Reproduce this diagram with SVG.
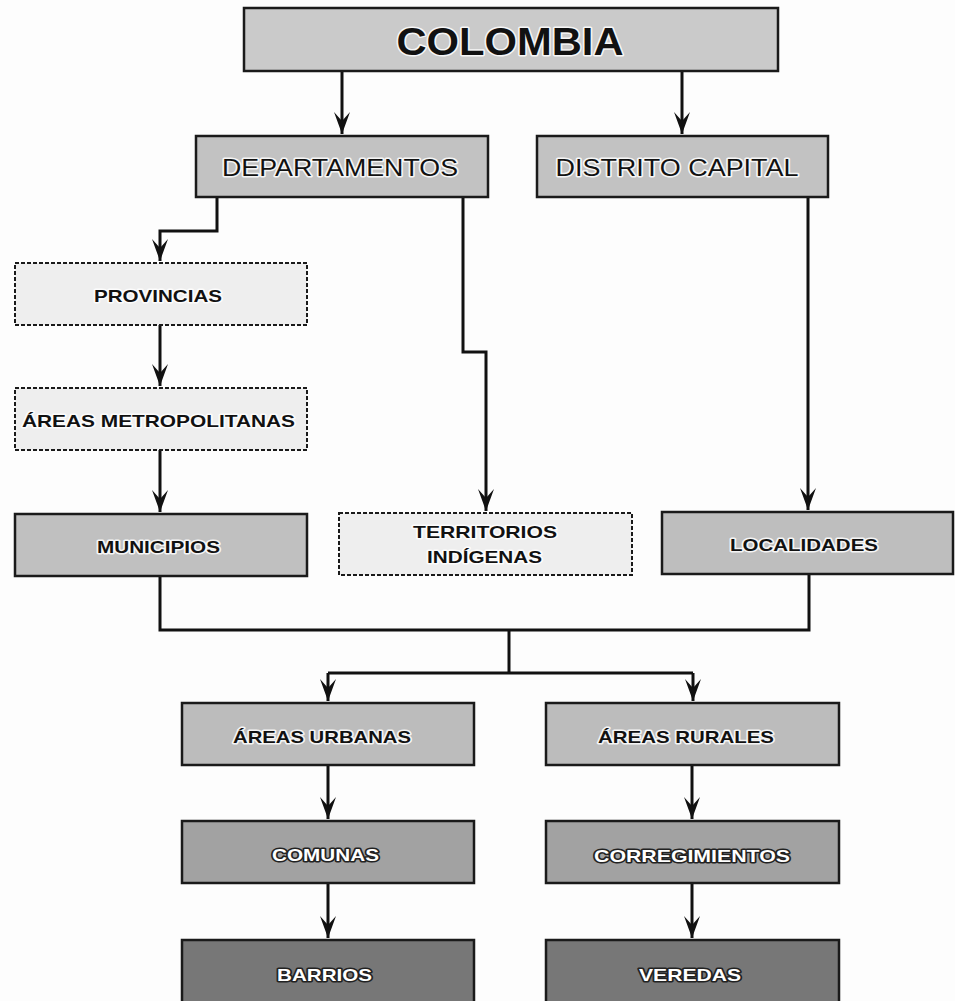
<svg xmlns="http://www.w3.org/2000/svg" width="955" height="1001" viewBox="0 0 955 1001">
<defs>
<style>
.box{stroke:#1a1a1a;stroke-width:2.5}
.dash{fill:#eeeeee;stroke:#1a1a1a;stroke-width:2;stroke-dasharray:4 2}
.t{font-family:"Liberation Sans",Arial,sans-serif;font-weight:bold;font-size:17px;text-anchor:middle;fill:#111;stroke:#fff;stroke-width:3;stroke-opacity:0.85;paint-order:stroke;stroke-linejoin:round}
.reg{font-weight:normal;font-size:23px}
.w{fill:#fff;stroke:#222;stroke-width:3;stroke-opacity:1}
.c{fill:none;stroke:#111;stroke-width:3}
</style>
<marker id="ah" markerUnits="userSpaceOnUse" markerWidth="26" markerHeight="20" viewBox="-24 -10 26 20" refX="0" refY="0" orient="auto">
<path d="M0,0 L-22,-8 L-13,0 L-22,8 Z" fill="#111"/>
</marker>
</defs>
<rect width="955" height="1001" fill="#fdfdfd"/>
<g id="connectors">
<path class="c" d="M342,71 V134" marker-end="url(#ah)"/>
<path class="c" d="M682,71 V134" marker-end="url(#ah)"/>
<path class="c" d="M217,197 V231 H160 V261" marker-end="url(#ah)"/>
<path class="c" d="M160,325 V386" marker-end="url(#ah)"/>
<path class="c" d="M160,450 V512" marker-end="url(#ah)"/>
<path class="c" d="M463,197 V352 H486 V511" marker-end="url(#ah)"/>
<path class="c" d="M808,197 V510" marker-end="url(#ah)"/>
<path class="c" d="M160,576 V630 H809 V574"/>
<path class="c" d="M509,630 V673"/>
<path class="c" d="M328,673 H693"/>
<path class="c" d="M328,673 V701" marker-end="url(#ah)"/>
<path class="c" d="M693,673 V701" marker-end="url(#ah)"/>
<path class="c" d="M328,765 V819" marker-end="url(#ah)"/>
<path class="c" d="M692,765 V819" marker-end="url(#ah)"/>
<path class="c" d="M328,883 V938" marker-end="url(#ah)"/>
<path class="c" d="M692,883 V938" marker-end="url(#ah)"/>
</g>
<g id="colombia">
<rect class="box" x="244" y="8" width="534" height="63" fill="#cacaca"/>
<text class="t" x="510" y="55" style="font-size:38px" textLength="227" lengthAdjust="spacingAndGlyphs">COLOMBIA</text>
</g>
<g id="departamentos">
<rect class="box" x="196" y="136" width="292" height="61" fill="#c2c2c2"/>
<text class="t reg" x="340" y="176" textLength="236" lengthAdjust="spacingAndGlyphs">DEPARTAMENTOS</text>
</g>
<g id="distrito-capital">
<rect class="box" x="537" y="136" width="291" height="61" fill="#c2c2c2"/>
<text class="t reg" x="677" y="176" textLength="243" lengthAdjust="spacingAndGlyphs">DISTRITO CAPITAL</text>
</g>
<g id="provincias">
<rect class="dash" x="15" y="263" width="292" height="62"/>
<text class="t" x="158" y="302" textLength="128" lengthAdjust="spacingAndGlyphs">PROVINCIAS</text>
</g>
<g id="areas-metropolitanas">
<rect class="dash" x="15" y="388" width="292" height="62"/>
<text class="t" x="158.5" y="427" textLength="273" lengthAdjust="spacingAndGlyphs">ÁREAS METROPOLITANAS</text>
</g>
<g id="municipios">
<rect class="box" x="15" y="514" width="292" height="62" fill="#c0c0c0"/>
<text class="t" x="158.5" y="553" textLength="123" lengthAdjust="spacingAndGlyphs">MUNICIPIOS</text>
</g>
<g id="territorios-indigenas">
<rect class="dash" x="339" y="513" width="293" height="62"/>
<text class="t" x="485" y="538" textLength="144" lengthAdjust="spacingAndGlyphs">TERRITORIOS</text>
<text class="t" x="484.5" y="563" textLength="115" lengthAdjust="spacingAndGlyphs">INDÍGENAS</text>
</g>
<g id="localidades">
<rect class="box" x="662" y="512" width="291" height="62" fill="#bebebe"/>
<text class="t" x="804" y="551" textLength="148" lengthAdjust="spacingAndGlyphs">LOCALIDADES</text>
</g>
<g id="areas-urbanas">
<rect class="box" x="182" y="703" width="292" height="62" fill="#bcbcbc"/>
<text class="t" x="322" y="743" textLength="178" lengthAdjust="spacingAndGlyphs">ÁREAS URBANAS</text>
</g>
<g id="areas-rurales">
<rect class="box" x="546" y="703" width="293" height="62" fill="#bcbcbc"/>
<text class="t" x="686" y="743" textLength="176" lengthAdjust="spacingAndGlyphs">ÁREAS RURALES</text>
</g>
<g id="comunas">
<rect class="box" x="182" y="821" width="292" height="62" fill="#a2a2a2"/>
<text class="t w" x="325.5" y="861" textLength="107" lengthAdjust="spacingAndGlyphs">COMUNAS</text>
</g>
<g id="corregimientos">
<rect class="box" x="546" y="821" width="293" height="62" fill="#a2a2a2"/>
<text class="t w" x="692" y="862" textLength="196" lengthAdjust="spacingAndGlyphs">CORREGIMIENTOS</text>
</g>
<g id="barrios">
<rect class="box" x="182" y="940" width="292" height="64" fill="#777777"/>
<text class="t w" x="324.5" y="981" textLength="95" lengthAdjust="spacingAndGlyphs">BARRIOS</text>
</g>
<g id="veredas">
<rect class="box" x="546" y="940" width="293" height="64" fill="#777777"/>
<text class="t w" x="690" y="981" textLength="102" lengthAdjust="spacingAndGlyphs">VEREDAS</text>
</g>
</svg>
